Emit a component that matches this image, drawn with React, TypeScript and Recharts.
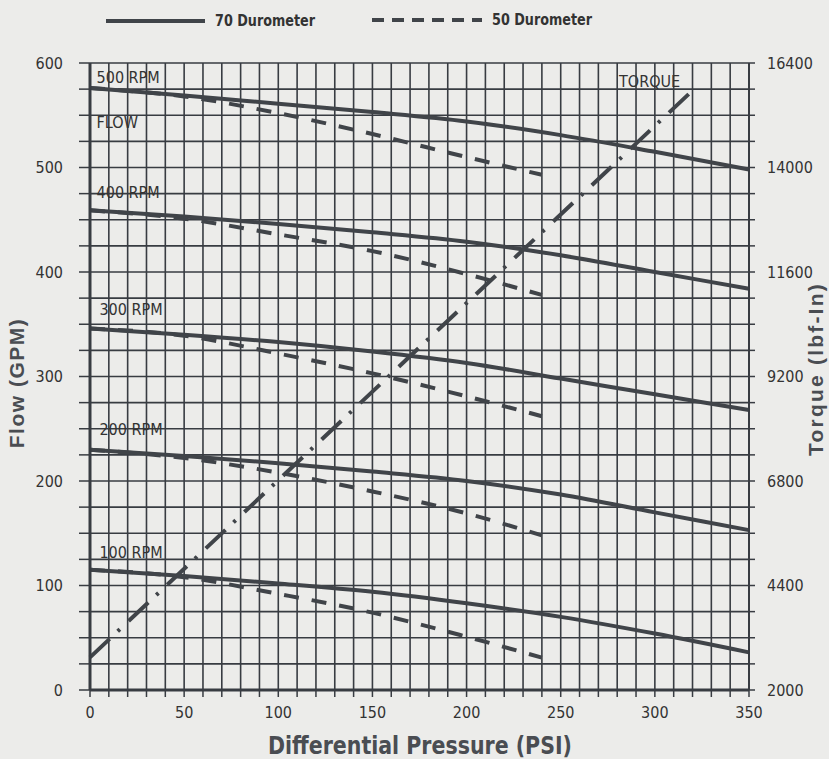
import React from "react";
import { LineChart, Line, XAxis, YAxis, CartesianGrid, ReferenceDot } from "recharts";

// pressure stations (PSI)
const PSI_70 = [0, 50, 100, 150, 200, 250, 300, 350];
const PSI_50 = [0, 50, 100, 150, 200, 240];

// 70 durometer flow (GPM)
const FLOW_70_500 = [576, 569, 561, 553, 544, 531, 515, 498];
const FLOW_70_400 = [459, 453, 446, 438, 429, 416, 400, 384];
const FLOW_70_300 = [346, 340, 333, 324, 313, 298, 283, 268];
const FLOW_70_200 = [230, 224, 217, 209, 200, 187, 170, 153];
const FLOW_70_100 = [115, 109, 102, 94, 83, 70, 54, 36];

// 50 durometer flow (GPM)
const FLOW_50_500 = [576, 568, 552, 532, 510, 493];
const FLOW_50_400 = [459, 451, 436, 420, 398, 378];
const FLOW_50_300 = [346, 339, 322, 303, 281, 262];
const FLOW_50_200 = [230, 222, 208, 190, 169, 148];
const FLOW_50_100 = [115, 108, 92, 74, 51, 31];

// torque (lbf-in)
const TORQUE_PSI = [0, 322];
const TORQUE = [2750, 15850];

const X_TICKS = [
  0, 10, 20, 30, 40, 50, 60, 70, 80, 90, 100, 110, 120, 130, 140, 150, 160, 170,
  180, 190, 200, 210, 220, 230, 240, 250, 260, 270, 280, 290, 300, 310, 320, 330,
  340, 350,
];
const FLOW_TICKS = [
  0, 25, 50, 75, 100, 125, 150, 175, 200, 225, 250, 275, 300, 325, 350, 375, 400,
  425, 450, 475, 500, 525, 550, 575, 600,
];
const TORQUE_TICKS = [
  2000, 2600, 3200, 3800, 4400, 5000, 5600, 6200, 6800, 7400, 8000, 8600, 9200,
  9800, 10400, 11000, 11600, 12200, 12800, 13400, 14000, 14600, 15200, 15800, 16400,
];

const CURVE_LABELS = [
  { text: "500 RPM", p: 3.5, gpm: 586 },
  { text: "FLOW", p: 3.5, gpm: 543 },
  { text: "400 RPM", p: 3.5, gpm: 476 },
  { text: "300 RPM", p: 5, gpm: 364 },
  { text: "200 RPM", p: 5, gpm: 249 },
  { text: "100 RPM", p: 5, gpm: 132 },
  { text: "TORQUE", p: 281, gpm: 582 },
];

const INK = "#404449";
const GRID = "#383c42";
const NARROW = "'Liberation Sans Narrow', 'Arial Narrow', 'DejaVu Sans Condensed', sans-serif";

const pts = (xs: number[], ys: number[]) => xs.map((p, i) => ({ p, v: ys[i] }));

const solid = [FLOW_70_500, FLOW_70_400, FLOW_70_300, FLOW_70_200, FLOW_70_100];
const dashed = [FLOW_50_500, FLOW_50_400, FLOW_50_300, FLOW_50_200, FLOW_50_100];

export default function App() {
  const tickStyle = { fill: "#333", fontSize: 16, fontFamily: NARROW };
  const titleStyle: React.CSSProperties = {
    position: "absolute",
    whiteSpace: "nowrap",
    fontFamily: "'Liberation Sans', Arial, sans-serif",
    fontWeight: "bold",
    fontSize: 21,
    color: "#4a4d52",
  };
  return (
    <div
      style={{
        position: "absolute",
        left: 0,
        top: 0,
        width: 829,
        height: 759,
        background: "#ececea",
        overflow: "hidden",
      }}
    >
      <LineChart
        width={829}
        height={759}
        margin={{ top: 63, right: 0, bottom: 0, left: 0 }}
        style={{ position: "absolute", left: 0, top: 0 }}
      >
        <CartesianGrid yAxisId="flow" stroke={GRID} strokeWidth={1.6} />
        <XAxis
          type="number"
          dataKey="p"
          domain={[0, 350]}
          ticks={X_TICKS}
          interval={0}
          tickFormatter={(v) => (v % 50 === 0 ? String(v) : "")}
          height={69}
          tickSize={7}
          tickMargin={10}
          tick={tickStyle}
          stroke={GRID}
          axisLine={{ stroke: GRID, strokeWidth: 3 }}
          tickLine={{ stroke: GRID, strokeWidth: 1.5 }}
        />
        <YAxis
          yAxisId="flow"
          type="number"
          domain={[0, 600]}
          ticks={FLOW_TICKS}
          interval={0}
          tickFormatter={(v) => (v % 100 === 0 ? String(v) : "")}
          width={90}
          tickSize={11}
          tickMargin={16}
          tick={tickStyle}
          axisLine={{ stroke: GRID, strokeWidth: 3 }}
          tickLine={{ stroke: GRID, strokeWidth: 1.5 }}
        />
        <YAxis
          yAxisId="torque"
          orientation="right"
          type="number"
          domain={[2000, 16400]}
          ticks={TORQUE_TICKS}
          interval={0}
          tickFormatter={(v) => ((v - 2000) % 2400 === 0 ? String(v) : "")}
          width={80}
          tickSize={6}
          tickMargin={12}
          tick={{ ...tickStyle, textAnchor: "start" }}
          axisLine={{ stroke: GRID, strokeWidth: 2 }}
          tickLine={{ stroke: GRID, strokeWidth: 1.5 }}
        />

        {solid.map((ys, i) => (
          <Line
            key={"s" + i}
            yAxisId="flow"
            data={pts(PSI_70, ys)}
            dataKey="v"
            type="monotone"
            stroke={INK}
            strokeWidth={4}
            dot={false}
            isAnimationActive={false}
          />
        ))}
        {dashed.map((ys, i) => (
          <Line
            key={"d" + i}
            yAxisId="flow"
            data={pts(PSI_50, ys)}
            dataKey="v"
            type="monotone"
            stroke={INK}
            strokeWidth={4}
            strokeDasharray="15 13"
            dot={false}
            isAnimationActive={false}
          />
        ))}
        <Line
          yAxisId="torque"
          data={pts(TORQUE_PSI, TORQUE)}
          dataKey="v"
          type="linear"
          stroke={INK}
          strokeWidth={4}
          strokeDasharray="27 11 3 12"
          dot={false}
          isAnimationActive={false}
        />

        {CURVE_LABELS.map((l) => (
          <ReferenceDot
            key={l.text}
            yAxisId="flow"
            x={l.p}
            y={l.gpm}
            r={0}
            ifOverflow="visible"
            label={{
              value: l.text,
              position: "right",
              offset: 0,
              fill: "#333",
              fontSize: 16,
              fontFamily: NARROW,
            }}
          />
        ))}
      </LineChart>

      {/* legend + x title */}
      <svg width={829} height={759} style={{ position: "absolute", left: 0, top: 0, pointerEvents: "none" }}>
        <line x1={106} x2={205} y1={21} y2={21} stroke={INK} strokeWidth={4} />
        <text
          x={215}
          y={26}
          fontSize={16}
          fontFamily={NARROW}
          fill="#333"
          fontWeight="bold"
          textLength={100}
          lengthAdjust="spacingAndGlyphs"
        >
          70 Durometer
        </text>
        <line
          x1={372}
          x2={482}
          y1={20}
          y2={20}
          stroke={INK}
          strokeWidth={4}
          strokeDasharray="12 8"
        />
        <text
          x={492}
          y={25}
          fontSize={16}
          fontFamily={NARROW}
          fill="#333"
          fontWeight="bold"
          textLength={100}
          lengthAdjust="spacingAndGlyphs"
        >
          50 Durometer
        </text>
        <text
          x={268}
          y={754}
          fontSize={24}
          fontFamily={NARROW}
          fill="#4a4d52"
          fontWeight="bold"
          textLength={304}
          lengthAdjust="spacingAndGlyphs"
        >
          Differential Pressure (PSI)
        </text>
      </svg>

      {/* y titles */}
      <div
        style={{
          ...titleStyle,
          left: 17,
          top: 383,
          letterSpacing: 1.5,
          transform: "translate(-50%, -50%) rotate(-90deg)",
        }}
      >
        Flow (GPM)
      </div>
      <div
        style={{
          ...titleStyle,
          left: 816,
          top: 369,
          letterSpacing: 2.2,
          transform: "translate(-50%, -50%) rotate(-90deg)",
        }}
      >
        Torque (lbf-In)
      </div>
    </div>
  );
}
